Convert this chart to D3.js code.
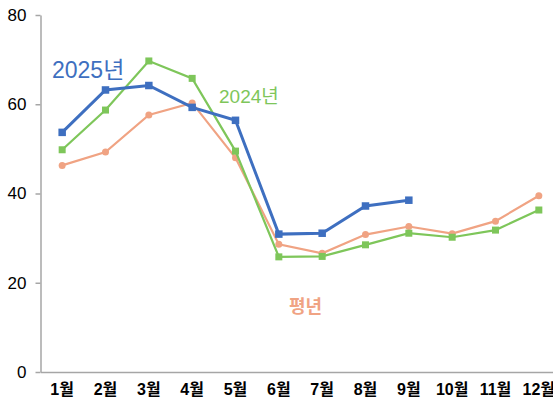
<!DOCTYPE html>
<html>
<head>
<meta charset="utf-8">
<script src="https://cdn.jsdelivr.net/npm/d3@7"></script>
<style>
  body { margin: 0; background: #fff; }
  text { font-family: "Liberation Sans", "Noto Sans CJK KR", sans-serif; }
</style>
</head>
<body>
<div id="container"></div>
<script>
/* DATA */
const months = ["1월","2월","3월","4월","5월","6월","7월","8월","9월","10월","11월","12월"];
const yTicks = [0, 20, 40, 60, 80];
const values2025 = [53.7, 63.2, 64.2, 59.3, 56.4, 30.9, 31.1, 37.2, 38.5];
const values2024 = [49.8, 58.7, 69.7, 65.8, 49.5, 25.8, 25.9, 28.5, 31.1, 30.2, 31.8, 36.3];
const valuesNormal = [46.3, 49.3, 57.6, 60.3, 48.0, 28.6, 26.6, 30.8, 32.6, 31.0, 33.8, 39.5];

/* CONSTANTS */
const width = 553, height = 405,
      margin = {top: 15, left: 40.5, bottom: 33},
      plotRight = 560.5;

const svg = d3.select("#container").append("svg")
    .attr("width", width)
    .attr("height", height);

/* SCALES */
const xScale = d3.scaleBand()
    .domain(months)
    .range([margin.left, plotRight]);

const yScale = d3.scaleLinear()
    .domain([0, 80])
    .range([height - margin.bottom, margin.top]);

const xPos = i => xScale(months[i]) + xScale.bandwidth() / 2;

/* AXES */
const yAxis = svg.append("g")
    .attr("transform", `translate(${margin.left},0)`)
    .call(d3.axisLeft(yScale).tickValues(yTicks).tickSize(5).tickSizeOuter(0).tickPadding(9));
yAxis.select(".domain").attr("stroke", "#a6a6a6").attr("stroke-width", 1.5);
yAxis.selectAll(".tick line").attr("stroke", "#a6a6a6").attr("stroke-width", 1.5);
yAxis.selectAll(".tick text")
    .attr("font-size", "17px")
    .attr("fill", "#000")
    .attr("font-weight", "500");

const xAxis = svg.append("g")
    .attr("transform", `translate(0,${yScale(0)})`)
    .call(d3.axisBottom(xScale).tickSize(0).tickSizeOuter(0).tickPadding(12));
xAxis.select(".domain").attr("stroke", "#a6a6a6").attr("stroke-width", 1.5);
xAxis.selectAll(".tick text")
    .attr("font-size", "16px")
    .attr("font-weight", "bold")
    .attr("fill", "#000");

/* LINES */
const series = [
  {name: "평년", values: valuesNormal, color: "#f0a383", marker: "circle"},
  {name: "2024년", values: values2024, color: "#7ec65a", marker: "square"},
  {name: "2025년", values: values2025, color: "#3e6fc0", marker: "square"}
];

const lineGen = d3.line()
    .x((d, i) => xPos(i))
    .y(d => yScale(d));

series.forEach(s => {
  const g = svg.append("g");
  g.append("path")
    .datum(s.values)
    .attr("d", lineGen)
    .attr("fill", "none")
    .attr("stroke", s.color)
    .attr("stroke-width", s.name === "2025년" ? 3 : 2.2);

  if (s.marker === "circle") {
    g.selectAll("circle")
      .data(s.values)
      .join("circle")
      .attr("cx", (d, i) => xPos(i))
      .attr("cy", d => yScale(d))
      .attr("r", 3.5)
      .attr("fill", s.color);
  } else {
    const sz = s.name === "2025년" ? 7.5 : 7;
    g.selectAll("rect")
      .data(s.values)
      .join("rect")
      .attr("x", (d, i) => xPos(i) - sz / 2)
      .attr("y", d => yScale(d) - sz / 2)
      .attr("width", sz)
      .attr("height", sz)
      .attr("fill", s.color);
  }
});

/* LABELS */
svg.append("text")
    .attr("x", 52).attr("y", 78)
    .attr("font-size", "23px")
    .attr("fill", "#3e6fc0")
    .text("2025년");

svg.append("text")
    .attr("x", 219).attr("y", 103)
    .attr("font-size", "19px")
    .attr("fill", "#7ec65a")
    .text("2024년");

svg.append("text")
    .attr("x", 289).attr("y", 313)
    .attr("font-size", "18px")
    .attr("font-weight", "bold")
    .attr("fill", "#f0a383")
    .text("평년");
</script>
</body>
</html>
